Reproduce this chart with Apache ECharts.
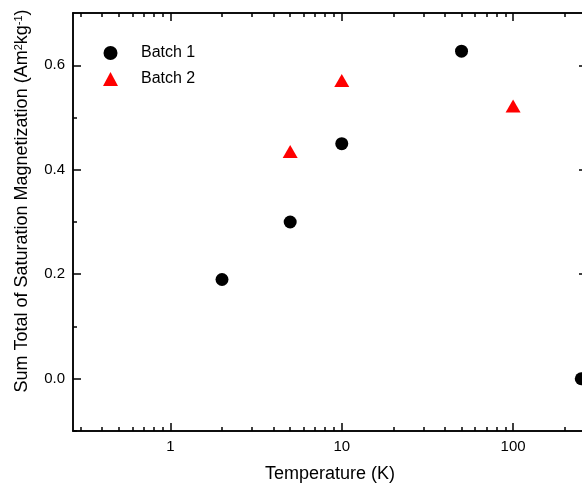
<!DOCTYPE html>
<html>
<head>
<meta charset="utf-8">
<script src="https://cdn.jsdelivr.net/npm/echarts@6/dist/echarts.min.js"></script>
<style>
  html, body { margin: 0; padding: 0; background: #fff; overflow: hidden; }
  #main { width: 582px; height: 484px; }
</style>
</head>
<body>
<div id="main"></div>
<script>
// axis ranges and tick positions
const xMin = 0.27, xMax = 270;
const yMin = -0.1, yMax = 0.7;
const xMajorTicks = [1, 10, 100];
const xMinorTicks = [0.3, 0.4, 0.5, 0.6, 0.7, 0.8, 0.9,
                     2, 3, 4, 5, 6, 7, 8, 9,
                     20, 30, 40, 50, 60, 70, 80, 90, 200];
const yMajorTicks = [0, 0.2, 0.4, 0.6];
const yMinorTicks = [-0.1, 0.1, 0.3, 0.5];

// data
const batch1Temp = [2, 5, 10, 50, 250];
const batch1Mag = [0.19, 0.30, 0.45, 0.627, 0.0];
const batch2Temp = [5, 10, 100];
const batch2Mag = [0.435, 0.571, 0.522];

const FONT = 'Liberation Sans, Arial, sans-serif';
const lineStyle = { color: '#000', width: 1.5 };

function xAxisOf(pos, ticks, len, withLabels) {
    return {
        type: 'log', logBase: 10, position: pos, min: xMin, max: xMax,
        axisLine: { show: true, onZero: false, lineStyle: lineStyle },
        axisTick: { show: true, inside: true, length: len, customValues: ticks, lineStyle: lineStyle },
        axisLabel: {
            show: withLabels, customValues: xMajorTicks, margin: 8,
            color: '#000', fontSize: 15, fontFamily: FONT,
            formatter: v => String(Math.round(v))
        },
        splitLine: { show: false },
        minorTick: { show: false },
        name: withLabels ? 'Temperature (K)' : '',
        nameLocation: 'middle', nameGap: 34,
        nameTextStyle: { color: '#000', fontSize: 18, fontFamily: FONT }
    };
}

function yAxisOf(pos, ticks, len, withLabels) {
    return {
        type: 'value', position: pos, min: yMin, max: yMax, interval: 0.1,
        axisLine: { show: true, onZero: false, lineStyle: lineStyle },
        axisTick: { show: true, inside: true, length: len, customValues: ticks, lineStyle: lineStyle },
        axisLabel: {
            show: withLabels, customValues: yMajorTicks, margin: 8,
            color: '#000', fontSize: 15, fontFamily: FONT,
            formatter: v => v.toFixed(1)
        },
        splitLine: { show: false },
        minorTick: { show: false }
    };
}

const chart = echarts.init(document.getElementById('main'));

chart.setOption({
    animation: false,
    textStyle: { fontFamily: FONT },
    grid: { left: 73, top: 13, width: 514, height: 418, containLabel: false, outerBoundsMode: 'none' },
    xAxis: [
        xAxisOf('bottom', xMajorTicks, 8, true),
        xAxisOf('bottom', xMinorTicks, 4, false),
        xAxisOf('top', xMajorTicks, 8, false),
        xAxisOf('top', xMinorTicks, 4, false)
    ],
    yAxis: [
        yAxisOf('left', yMajorTicks, 8, true),
        yAxisOf('left', yMinorTicks, 4, false),
        yAxisOf('right', yMajorTicks, 8, false),
        yAxisOf('right', yMinorTicks, 4, false)
    ],
    legend: {
        orient: 'vertical', left: 98, top: 40,
        itemWidth: 15, itemHeight: 14, itemGap: 10,
        textStyle: { color: '#000', fontSize: 16, fontFamily: FONT, padding: [0, 0, 0, 18] },
        data: ['Batch 1', 'Batch 2']
    },
    graphic: [{
        type: 'text', x: 22, y: 201, rotation: Math.PI / 2,
        style: {
            text: '{a|Sum Total of Saturation Magnetization (Am}{s|2}{a|kg}{s|-1}{a|)}',
            align: 'center', verticalAlign: 'middle',
            fill: '#000', fontFamily: FONT,
            rich: {
                a: { fontSize: 18, fontFamily: FONT, fill: '#000' },
                s: { fontSize: 11, fontFamily: FONT, fill: '#000', verticalAlign: 'top' }
            }
        }
    }],
    series: [{
        name: 'Batch 1', type: 'scatter', xAxisIndex: 0, yAxisIndex: 0,
        symbol: 'circle', symbolSize: 13,
        itemStyle: { color: '#000', opacity: 1 },
        data: batch1Temp.map((t, i) => [t, batch1Mag[i]])
    }, {
        name: 'Batch 2', type: 'scatter', xAxisIndex: 0, yAxisIndex: 0,
        symbol: 'triangle', symbolSize: [15, 13],
        itemStyle: { color: '#ff0000', opacity: 1 },
        data: batch2Temp.map((t, i) => [t, batch2Mag[i]])
    }]
});
</script>
</body>
</html>
